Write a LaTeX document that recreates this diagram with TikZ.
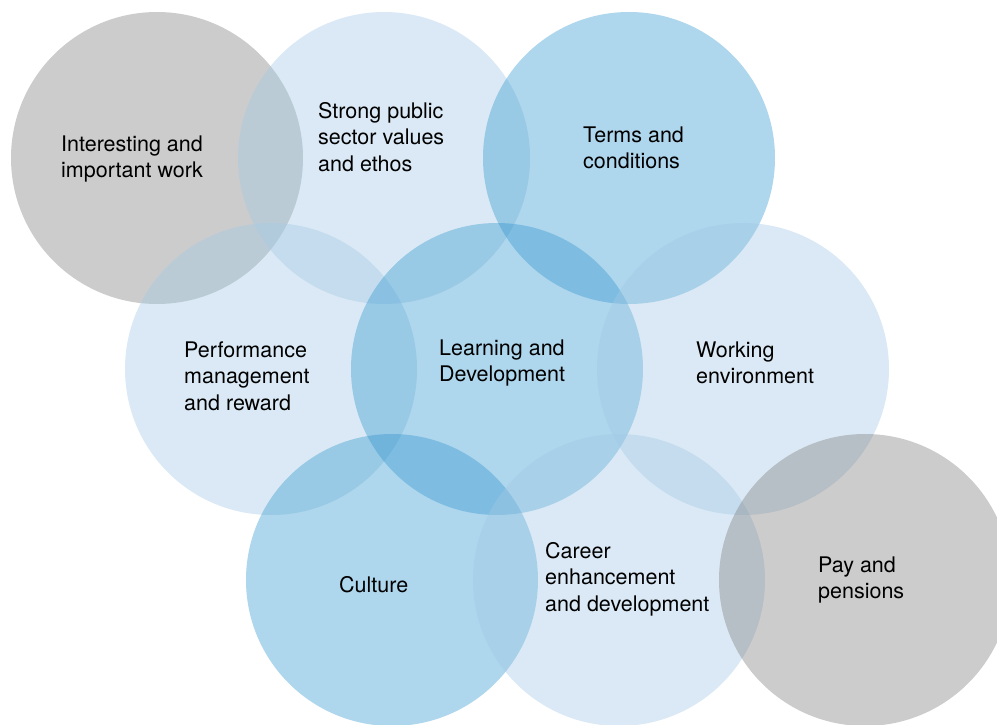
\documentclass[tikz,border=0pt]{standalone}
\usepackage{fontspec}
\setmainfont{TeX Gyre Heros}
\definecolor{lightb}{RGB}{163,201,229}
\definecolor{medb}{RGB}{53,152,208}
\definecolor{greyc}{RGB}{128,128,128}
\begin{document}
\begin{tikzpicture}[x=1pt,y=-1pt,
  bubble/.style={circle,minimum size=292pt,inner sep=0pt,draw=none,fill opacity=0.4},
  lb/.style={bubble,fill=lightb},
  mb/.style={bubble,fill=medb},
  gb/.style={bubble,fill=greyc},
  lbl/.style={align=left,anchor=base west,inner sep=0pt,text=black,font=\fontsize{21.5}{26.5}\selectfont}]
\useasboundingbox (0,0) rectangle (997,725);
\clip (0,0) rectangle (997,725);
\node[gb] (c1) at (157,158) {};
\node[lb] (c2) at (384,158) {};
\node[mb] (c3) at (629,158) {};
\node[lb] (c4) at (271,369) {};
\node[mb] (c5) at (497,369) {};
\node[lb] (c6) at (743,369) {};
\node[mb] (c7) at (392,580) {};
\node[lb] (c8) at (619,580) {};
\node[gb] (c9) at (865,580) {};
% base anchor = baseline of last line
\node[lbl] (t1) at (61,177.5) {Interesting and\\important work};
\node[lbl] (t2) at (318,171) {Strong public\\sector values\\and ethos};
\node[lbl] (t3) at (583,168.5) {Terms and\\conditions};
\node[lbl] (t4) at (184,410) {Performance\\management\\and reward};
\node[lbl] (t5) at (439,381.5) {Learning and\\Development};
\node[lbl] (t6) at (696,383.5) {Working\\environment};
\node[lbl] (t7) at (339,592) {Culture};
\node[lbl] (t8) at (545,611) {Career\\enhancement\\and development};
\node[lbl] (t9) at (818,598.5) {Pay and\\pensions};
\end{tikzpicture}
\end{document}
